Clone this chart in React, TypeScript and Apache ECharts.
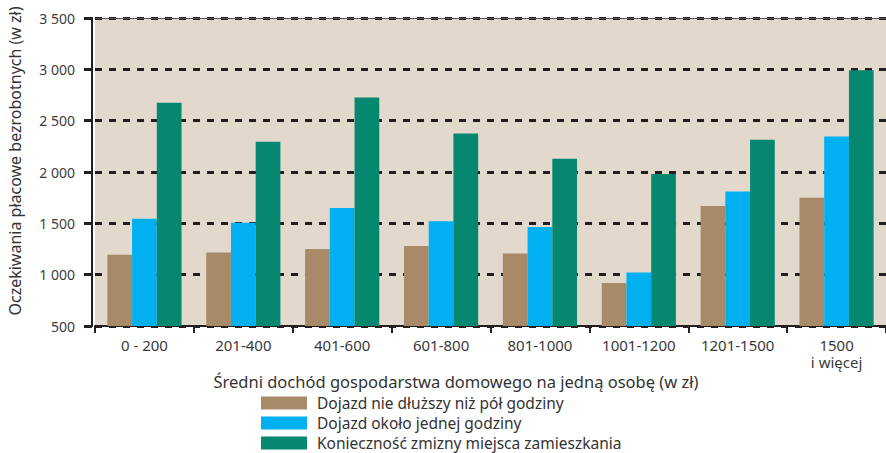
import React, { useEffect, useRef } from "react";
import * as echarts from "echarts";

const categories = ["0 - 200", "201-400", "401-600", "601-800", "801-1000", "1001-1200", "1201-1500", "1500\ni więcej"];
const seriesNames = [
  "Dojazd nie dłuższy niż pół godziny",
  "Dojazd około jednej godziny",
  "Konieczność zmizny miejsca zamieszkania",
];
const shortCommute = [1195, 1215, 1250, 1280, 1205, 920, 1670, 1750];
const hourCommute = [1545, 1505, 1650, 1520, 1465, 1020, 1810, 2345];
const relocation = [2675, 2295, 2725, 2375, 2130, 1980, 2315, 2990];
const colors = ["#a88a68", "#00b0f0", "#068870"];
const yTitle = "Oczekiwania płacowe bezrobotnych (w zł)";
const xTitle = "Średni dochód gospodarstwa domowego na jedną osobę (w zł)";

const FONT = "'Noto Sans', sans-serif";

export default function App() {
  const ref = useRef<HTMLDivElement>(null);
  useEffect(() => {
    if (!ref.current) return;
    const chart = echarts.init(ref.current, undefined, { renderer: "svg" });
    const values = [shortCommute, hourCommute, relocation];
    chart.setOption({
      animation: false,
      textStyle: { fontFamily: FONT },
      grid: {
        left: 95,
        top: 18,
        width: 805,
        height: 308,
        show: true,
        backgroundColor: "#e2d8cc",
        borderWidth: 0,
      },
      legend: {
        orient: "vertical",
        left: 261,
        top: 393,
        height: 120,
        padding: 0,
        itemWidth: 46,
        itemHeight: 13,
        itemGap: 0,
        icon: "rect",
        selectedMode: false,
        textStyle: { fontSize: 15.5, color: "#333", lineHeight: 20, padding: [0, 0, 0, 5], fontFamily: FONT },
        data: seriesNames,
      },
      xAxis: [
        {
          type: "category",
          data: categories,
          axisLine: { show: true, lineStyle: { color: "#231f20", width: 2 } },
          axisTick: { show: true, length: 7, lineStyle: { color: "#231f20", width: 2 } },
          axisLabel: { fontSize: 15, color: "#3a3a3a", margin: 10, lineHeight: 17, fontFamily: FONT },
        },
        {
          type: "category",
          data: categories,
          position: "top",
          axisLine: { show: true, lineStyle: { color: "#555", width: 1 } },
          axisTick: { show: false },
          axisLabel: { show: false },
        },
      ],
      yAxis: {
        type: "value",
        min: 500,
        max: 3500,
        interval: 500,
        offset: 3,
        axisLine: { show: true, lineStyle: { color: "#231f20", width: 2 } },
        axisTick: { show: true, length: 8, lineStyle: { color: "#231f20", width: 3 } },
        axisLabel: {
          fontSize: 14,
          color: "#3a3a3a",
          margin: 17,
          fontFamily: FONT,
          formatter: (v: number) => (v >= 1000 ? String(v).replace(/(\d)(\d{3})$/, "$1 $2") : String(v)),
        },
        splitLine: { show: true, lineStyle: { color: "#231f20", width: 3, type: [7, 7] } },
      },
      series: values.map((d, i) => ({
        name: seriesNames[i],
        type: "bar",
        data: d,
        barGap: "0%",
        barCategoryGap: "25%",
        itemStyle: { color: colors[i] },
        z: 1,
      })),
      graphic: [
        {
          type: "text",
          x: 15,
          y: 161,
          rotation: Math.PI / 2,
          style: {
            text: yTitle,
            fontSize: 16,
            fill: "#333",
            fontFamily: FONT,
            align: "center",
            verticalAlign: "middle",
          },
        },
        {
          type: "text",
          x: 456,
          y: 381,
          style: {
            text: xTitle,
            fontSize: 16.5,
            fill: "#333",
            fontFamily: FONT,
            align: "center",
            verticalAlign: "middle",
          },
        },
      ],
    });
    return () => chart.dispose();
  }, []);
  return <div ref={ref} style={{ position: "absolute", left: 0, top: 0, width: 886, height: 453 }} />;
}
